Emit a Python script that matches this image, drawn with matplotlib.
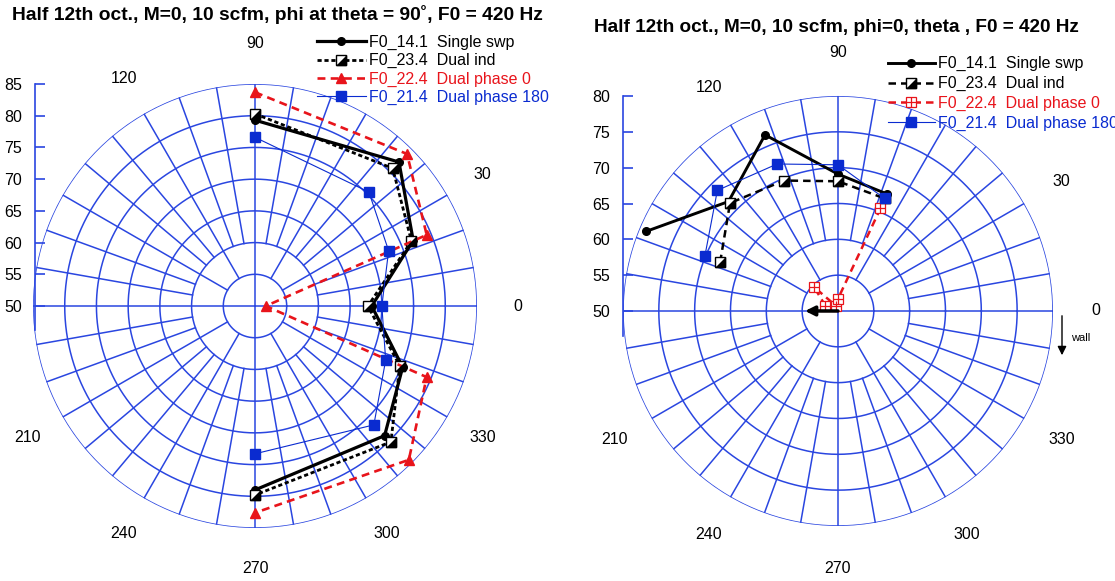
import numpy as np
import matplotlib
matplotlib.use("Agg")
import matplotlib.pyplot as plt
from matplotlib.legend_handler import HandlerTuple

plt.rcParams['font.family'] = ['Liberation Sans', 'DejaVu Sans']

# =========================
# DATA
# =========================
# left: phi at theta = 90 deg
phi_deg = [90, 45, 22.5, 0, -22.5, -45, -90]
left_single = [79.3, 82.1, 77.0, 68.4, 75.2, 78.9, 79.0]
left_dual_ind = [80.3, 80.7, 76.7, 67.8, 74.7, 80.3, 79.8]
left_phase0 = [83.7, 83.9, 79.3, 51.7, 79.3, 84.3, 82.6]
left_phase180 = [76.6, 75.4, 72.8, 70.0, 72.3, 76.5, 73.3]

# right: phi = 0, theta sweep
theta_deg = [157.5, 135, 112.5, 90, 67.5]
right_single = [79.0, 71.6, 76.6, 69.1, 67.7]
right_dual_ind = [67.8, 71.3, 69.7, 68.1, 67.0]
right_phase0 = [51.9, 54.7, 50.8, 51.7, 65.5]
right_phase180 = [70.1, 73.8, 72.2, 70.4, 67.0]

series_names = ["F0_14.1  Single swp", "F0_23.4  Dual ind",
                "F0_22.4  Dual phase 0", "F0_21.4  Dual phase 180"]
angle_labels = [0, 30, 90, 120, 210, 240, 270, 300, 330]

left_title = "Half 12th oct., M=0, 10 scfm, phi at theta = 90\u02da, F0 = 420 Hz"
right_title = "Half 12th oct., M=0, 10 scfm, phi=0, theta , F0 = 420 Hz"

GRID = '#2a46e0'
BLUE = '#0a2bd0'
RED = '#e8141b'
FS = 11.5

tri_lr = [(-1, -1), (1, -1), (1, 1)]   # lower-right half of a square


def polar_grid(ax, rmax, rlab):
    ax.set_ylim(50, rmax)
    ax.grid(False)
    ax.set_xticks([])
    ax.set_yticks([])
    ax.spines['polar'].set_visible(False)
    t = np.linspace(0, 2 * np.pi, 721)
    for r in range(55, rmax + 1, 5):
        ax.plot(t, np.full_like(t, r), color=GRID, lw=1.1, zorder=1)
    for a in range(0, 360, 10):
        if a % 90 == 0:
            r0 = 50
        elif a % 30 == 0:
            r0 = 55
        else:
            r0 = 60
        th = np.deg2rad(a)
        ax.plot([th, th], [r0, rmax], color=GRID, lw=1.1, zorder=1)
    for a in angle_labels:
        ax.text(np.deg2rad(a), rlab, str(a), ha='center', va='center',
                fontsize=FS)


def radial_axis(rect, lo, hi):
    rax = fig.add_axes(rect)
    rax.set_ylim(lo, hi)
    rax.set_xticks([])
    for s in ['top', 'right', 'bottom']:
        rax.spines[s].set_visible(False)
    rax.spines['left'].set_color(GRID)
    rax.spines['left'].set_linewidth(1.2)
    rax.set_yticks(np.arange(50, hi + 1, 5))
    rax.tick_params(axis='y', direction='in', length=7, width=1.2,
                    color=GRID, labelsize=FS, pad=9.5)
    rax.patch.set_visible(False)


fig = plt.figure(figsize=(11.15, 5.81), dpi=100)

# =========================
# LEFT POLAR
# =========================
ax1 = fig.add_axes([0.0296, 0.0912, 0.3982, 0.7642], projection='polar')
polar_grid(ax1, 85, 91.4)
th1 = np.deg2rad(phi_deg)
l1, = ax1.plot(th1, left_single, color='black', lw=2.3, marker='o', ms=5.5,
               clip_on=False, zorder=5)
l2a, = ax1.plot(th1, left_dual_ind, color='black', lw=2.0, ls=(0, (1.5, 1)),
                marker='s', ms=6.5, mfc='white', mec='black', mew=1.0,
                clip_on=False, zorder=5)
l2b, = ax1.plot(th1, left_dual_ind, ls='none', marker=tri_lr, ms=6.5,
                color='black', clip_on=False, zorder=6)
l3, = ax1.plot(th1, left_phase0, color=RED, lw=1.9, ls=(0, (3, 2)),
               marker='^', ms=6.5, clip_on=False, zorder=5)
l4, = ax1.plot(th1, left_phase180, color=BLUE, lw=0.8, marker='s', ms=6.5,
               clip_on=False, zorder=7)
leg1 = fig.legend([l1, (l2a, l2b), l3, l4], series_names,
                  handler_map={tuple: HandlerTuple(ndivide=1)},
                  loc='upper left', bbox_to_anchor=(0.284, 0.940),
                  frameon=False, fontsize=FS, handlelength=3.1,
                  handletextpad=0.15, labelspacing=0.2, borderpad=0,
                  borderaxespad=0)
for txt, c in zip(leg1.get_texts(), ['black', 'black', RED, BLUE]):
    txt.set_color(c)

radial_axis([35 / 1115, 0.4318, 0.001, 0.4236], 46.2, 85)

# =========================
# RIGHT POLAR
# =========================
ax2 = fig.add_axes([0.5587, 0.0947, 0.3857, 0.7401], projection='polar')
polar_grid(ax2, 80, 86.0)
th2 = np.deg2rad(theta_deg)
r1, = ax2.plot(th2, right_single, color='black', lw=2.1, marker='o', ms=5.5,
               clip_on=False, zorder=5)
r2a, = ax2.plot(th2, right_dual_ind, color='black', lw=1.8, ls=(0, (3, 2)),
                marker='s', ms=6.5, mfc='white', mec='black', mew=1.0,
                clip_on=False, zorder=5)
r2b, = ax2.plot(th2, right_dual_ind, ls='none', marker=tri_lr, ms=6.5,
                color='black', clip_on=False, zorder=6)
r3a, = ax2.plot(th2, right_phase0, color=RED, lw=1.8, ls=(0, (3, 2)),
                marker='s', ms=6.5, mfc='white', mec=RED, mew=0.9,
                clip_on=False, zorder=5)
r3b, = ax2.plot(th2, right_phase0, ls='none', marker='+', ms=6.5, mew=0.9,
                color=RED, clip_on=False, zorder=6)
r4, = ax2.plot(th2, right_phase180, color=BLUE, lw=0.8, marker='s', ms=6.5,
               clip_on=False, zorder=7)
ax2.annotate('', xy=(np.pi, 54.6), xytext=(0, 50),
             arrowprops=dict(arrowstyle='-|>', color='black', lw=2.5,
                             mutation_scale=14, shrinkA=0, shrinkB=0),
             zorder=8)
leg2 = fig.legend([r1, (r2a, r2b), (r3a, r3b), r4], series_names,
                  handler_map={tuple: HandlerTuple(ndivide=1)},
                  loc='upper left', bbox_to_anchor=(0.796, 0.903),
                  frameon=False, fontsize=FS, handlelength=3.0,
                  handletextpad=0.15, labelspacing=0.29, borderpad=0,
                  borderaxespad=0)
for txt, c in zip(leg2.get_texts(), ['black', 'black', RED, BLUE]):
    txt.set_color(c)

radial_axis([0.5587, 0.4215, 0.001, 0.4133], 46.5, 80)

# wall arrow
fig.add_artist(plt.Annotation('', xy=(1062 / 1115, 1 - 358 / 581),
                              xytext=(1062 / 1115, 1 - 313 / 581),
                              xycoords='figure fraction',
                              arrowprops=dict(arrowstyle='-|>', color='black',
                                              lw=1.0, mutation_scale=13)))
fig.text(1071 / 1115, 1 - 338 / 581, 'wall', fontsize=8, va='center')

# titles
fig.text(12 / 1115, 1 - 14 / 581, left_title, fontsize=13.9,
         fontweight='bold', va='center', ha='left')
fig.text(594 / 1115, 1 - 27 / 581, right_title, fontsize=13.7,
         fontweight='bold', va='center', ha='left')

fig.savefig("out.png", dpi=100)
